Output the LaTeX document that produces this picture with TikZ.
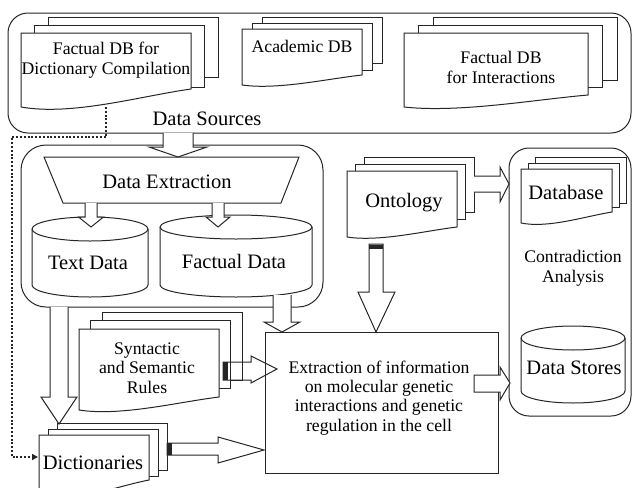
\documentclass[tikz,border=0pt]{standalone}
\usepackage{fontspec}
\setmainfont{Liberation Serif}
\usetikzlibrary{arrows.meta}
\tikzset{
  ln/.style={line width=1pt, draw=black!85, line join=miter},
  sheet/.style={ln, fill=white},
  blk/.style={ln, fill=white},
  cont/.style={ln, rounded corners=20pt},
  big/.style={font=\fontsize{20.5}{24}\selectfont, inner sep=0pt, anchor=base},
  sml/.style={font=\fontsize{17.7}{19.3}\selectfont, inner sep=0pt, anchor=base, align=center},
  dotc/.style={line width=2pt, draw=black!85, dash pattern=on 2pt off 1.8pt, -{Triangle[length=6pt,width=6pt]}},
  band/.style={fill=black!85},
}
% stacked document: x1 y1 x2 yright yleft dx dy middle-bottom back-bottom
\newcommand\docstack[9]{%
  \pgfmathsetmacro\dw{#3-#1}\pgfmathsetmacro\dd{#5-#4}%
  \draw[sheet] ({#1+2*#6},{#2-2*#7}) rectangle ({#3+2*#6},#9);
  \draw[sheet] ({#1+#6},{#2-#7}) rectangle ({#3+#6},#8);
  \draw[sheet] (#1,#2) -- (#3,#2) -- (#3,#4) .. controls ({#1+0.7*\dw},{#5-0.6*\dd}) and ({#1+0.3*\dw},{#5+0.5*\dd}) .. (#1,#5) -- cycle;
}
% cylinder: x1 x2 ytop ybottom ry
\newcommand\cyl[5]{%
  \pgfmathsetmacro\rx{(#2-#1)/2}%
  \draw[sheet] (#1,#3) -- (#1,#4) arc[start angle=180,end angle=360,x radius=\rx pt,y radius=#5pt] -- (#2,#3) arc[start angle=0,end angle=180,x radius=\rx pt,y radius=#5pt] -- cycle;
  \draw[ln] (#1,#3) arc[start angle=180,end angle=360,x radius=\rx pt,y radius=#5pt];
}
\begin{document}
\begin{tikzpicture}[x=1pt,y=-1pt]
\clip (0,0) rectangle (633,488);
\fill[white] (0,0) rectangle (633,488);

% containers
\draw[cont] (8,13) rectangle (631,133);
\draw[cont,rounded corners=25pt] (21,145) rectangle (323,307);
\draw[cont] (509,148) rectangle (631,416);

% documents
\docstack{21}{33}{191}{89}{107}{13.5}{8}{87}{77}
\docstack{242}{29}{362}{75}{85}{10}{6}{70}{63}
\docstack{404}{33}{588}{95}{107}{14.5}{8}{87}{80}
\docstack{347}{171}{457}{227}{237}{8.5}{7}{219}{212}
\docstack{521}{169}{612}{212}{223}{7}{6}{207}{203}
\docstack{79}{329}{219}{397}{410}{11.5}{8.5}{388}{380}
\docstack{39}{435}{149}{480}{496}{9}{6}{476}{470}

% cylinders, trapezoid, process box
\cyl{32}{148}{229}{285}{12}
\cyl{160}{312}{227}{285}{12}
\cyl{521}{625}{338}{391}{12}
\draw[sheet] (44,157) -- (299,157) -- (281,203) -- (63,203) -- cycle;
\draw[sheet] (265,332) rectangle (498,473);

% text nodes (multi-line nodes: base = last line)
\node[sml] (fdc) at (106,74) {Factual DB for\\Dictionary Compilation};
\node[sml] (acad) at (302,52) {Academic DB};
\node[sml] (fdi) at (501,83) {Factual DB\\for Interactions};
\node[big] (dsrc) at (207,125) {Data Sources};
\node[big] (dext) at (167,188) {Data Extraction};
\node[big] (tdat) at (88,269) {Text Data};
\node[big] (fdat) at (234,268) {Factual Data};
\node[big] (onto) at (404,207) {Ontology};
\node[big] (dbase) at (566,199) {Database};
\node[sml] (contra) at (573,282) {Contradiction\\Analysis};
\node[big] (dstore) at (574,374) {Data Stores};
\node[sml] (rules) at (147,393) {Syntactic\\and Semantic\\Rules};
\node[sml] (extr) at (379,431) {Extraction of information\\on molecular genetic\\interactions and genetic\\regulation in the cell};
\node[big] (dict) at (93,469) {Dictionaries};

% block arrows
\draw[blk] (163,133) -- (163,147) -- (149,147) -- (178,157) -- (207,147) -- (193,147) -- (193,133);
\draw[blk] (85,203) -- (85,217) -- (78.5,217) -- (91,227) -- (103.5,217) -- (97,217) -- (97,203);
\draw[blk] (212,203) -- (212,217) -- (206,217) -- (218,227) -- (230,217) -- (224,217) -- (224,203);
\draw[blk] (273,295) -- (273,322) -- (264,322) -- (282,332) -- (300,322) -- (291,322) -- (291,295);
\draw[blk] (50,307) -- (50,397) -- (41,397) -- (59,424) -- (77,397) -- (68,397) -- (68,307);
\draw[blk] (474,176) -- (500,176) -- (500,167) -- (509,184) -- (500,202) -- (500,192) -- (474,192);
\draw[blk] (369,244) -- (369,292) -- (358,292) -- (376,332) -- (395,292) -- (383,292) -- (383,244) -- cycle;
\fill[band] (369,244.5) rectangle (383,248.5);
\draw[ln] (223,362) -- (251,362) -- (251,356) -- (277,369) -- (251,383) -- (251,380) -- (223,380) -- cycle;
\fill[band] (223,362) rectangle (227.5,380);
\draw[blk] (167,443) -- (218,443) -- (218,437) -- (264,450) -- (218,463) -- (218,455) -- (167,455) -- cycle;
\fill[band] (167,443) rectangle (171.5,455);
\draw[blk] (474,375) -- (500,375) -- (500,367) -- (510,383) -- (500,400) -- (500,392) -- (474,392) -- cycle;

% dotted connector
\coordinate (fdcbot) at (106,107);
\coordinate (dictin) at (38,457);
\draw[dotc] (fdcbot) -- (106,137) -- (12,137) |- (dictin);
\end{tikzpicture}
\end{document}
